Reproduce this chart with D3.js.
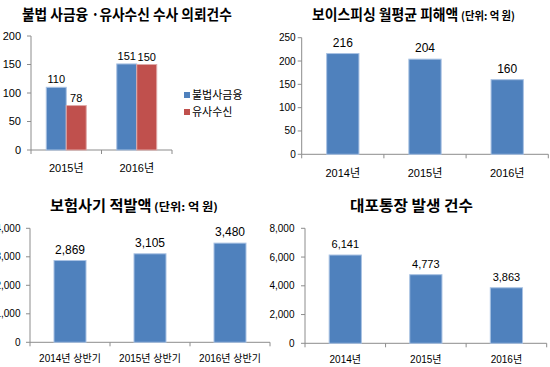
<!DOCTYPE html>
<html><head><meta charset="utf-8">
<script src="https://cdn.jsdelivr.net/npm/d3@7/dist/d3.min.js"></script>
<style>html,body{margin:0;padding:0;background:#fff;overflow:hidden}</style>
</head><body><svg id="c" width="550" height="367"></svg>
<script>
// ---- data ----
const p1Title = "불법 사금융 ·유사수신 수사 의뢰건수";
const p1Categories = ["2015년", "2016년"];
const p1Series = ["불법사금융", "유사수신"];
const p1Illegal = [110, 151];
const p1Similar = [78, 150];
const p1Ticks = [0, 50, 100, 150, 200];

const p2Title = "보이스피싱 월평균 피해액";
const p2Unit = "(단위: 억 원)";
const p2Categories = ["2014년", "2015년", "2016년"];
const p2Values = [216, 204, 160];
const p2Ticks = [0, 50, 100, 150, 200, 250];

const p3Title = "보험사기 적발액";
const p3Unit = "(단위: 억 원)";
const p3Categories = ["2014년 상반기", "2015년 상반기", "2016년 상반기"];
const p3Values = [2869, 3105, 3480];
const p3Ticks = [0, 1000, 2000, 3000, 4000];

const p4Title = "대포통장 발생 건수";
const p4Categories = ["2014년", "2015년", "2016년"];
const p4Values = [6141, 4773, 3863];
const p4Ticks = [0, 2000, 4000, 6000, 8000];

const BLUE = "#4F81BD", RED = "#C0504D";
const FONT = "'Liberation Sans', Arial, 'Noto Sans CJK KR', sans-serif";
const KFONT = "'Noto Sans CJK KR', 'Liberation Sans', sans-serif";
const AX = "#8c8c8c";
const svg = d3.select("#c");
const fmt = d3.format(",");

function axes(g, x, y, o) {
  const [x0, x1] = x.range();
  const [yb, yt] = y.range();
  g.append("line").attr("x1", x0).attr("x2", x0).attr("y1", yt).attr("y2", yb).attr("stroke", AX);
  o.ticks.forEach(t => {
    g.append("line").attr("x1", x0 - 4).attr("x2", x0).attr("y1", y(t)).attr("y2", y(t)).attr("stroke", AX);
    g.append("text").attr("x", x0 - o.tickGap).attr("y", y(t)).attr("dy", "0.35em")
      .attr("text-anchor", "end").attr("font-size", o.tickSize).attr("font-family", FONT)
      .attr("fill", "#000").text(o.tickFmt ? fmt(t) : t);
  });
  g.append("line").attr("x1", x0).attr("x2", x1).attr("y1", yb).attr("y2", yb).attr("stroke", AX);
  const step = x.step();
  for (let i = 0; i <= x.domain().length; i++) {
    const xx = x0 + i * step;
    g.append("line").attr("x1", xx).attr("x2", xx).attr("y1", yb).attr("y2", yb + 4).attr("stroke", AX);
  }
  x.domain().forEach(c => {
    g.append("text").attr("x", x(c) + x.bandwidth() / 2).attr("y", o.xLabelY)
      .attr("text-anchor", "middle").attr("font-size", o.xSize).attr("font-family", FONT)
      .attr("fill", "#000").text(c);
  });
}

// a bold label squeezed horizontally to fit between x0 and x1
function squeezed(str, x0, x1, y, size) {
  const g = svg.append("g");
  const t = g.append("text").attr("x", 0).attr("y", 0)
    .attr("font-family", KFONT).attr("font-weight", "bold").attr("fill", "#000")
    .attr("font-size", size).text(str);
  const w = t.node().getComputedTextLength();
  g.attr("transform", `translate(${x0},${y}) scale(${(x1 - x0) / w},1)`);
}
function title(main, unit, xStart, xSplit, xEnd, y, size) {
  squeezed(main, xStart, xSplit - 1.5, y, size);
  if (unit) squeezed(unit, xSplit + 1, xEnd, y, size * 0.72);
}

function singleBar(cats, vals, xr, yr, dom, ticks, o) {
  const g = svg.append("g");
  const x = d3.scaleBand().domain(cats).range(xr).paddingInner(o.pad).paddingOuter(o.pad / 2);
  const y = d3.scaleLinear().domain(dom).range(yr);
  axes(g, x, y, Object.assign({ ticks }, o));
  g.selectAll("rect.b").data(vals).enter().append("rect")
    .attr("x", (d, i) => x(cats[i])).attr("width", x.bandwidth())
    .attr("y", d => y(d)).attr("height", d => y(0) - y(d))
    .attr("fill", BLUE).attr("stroke", "#a9c2e3").attr("stroke-width", 1);
  g.selectAll("text.v").data(vals).enter().append("text")
    .attr("x", (d, i) => x(cats[i]) + x.bandwidth() / 2).attr("y", d => y(d) - o.vGap)
    .attr("text-anchor", "middle").attr("font-size", o.vSize).attr("font-family", FONT)
    .attr("fill", "#000").text(d => o.tickFmt ? fmt(d) : d);
}

// ---- panel 1 (grouped) ----
(function () {
  const g = svg.append("g");
  const x = d3.scaleBand().domain(p1Categories).range([31, 172]).paddingInner(0.433).paddingOuter(0.2165);
  const x1 = d3.scaleBand().domain(p1Series).range([0, x.bandwidth()]);
  const y = d3.scaleLinear().domain([0, 200]).range([150, 36]);
  axes(g, x, y, { ticks: p1Ticks, tickGap: 10, tickSize: 11, xSize: 11, xLabelY: 172 });
  const sets = [p1Illegal, p1Similar], cols = [BLUE, RED], strokes = ["#a9c2e3", "#e0a9a8"];
  sets.forEach((vals, s) => {
    vals.forEach((v, i) => {
      const bx = x(p1Categories[i]) + x1(p1Series[s]);
      g.append("rect").attr("x", bx).attr("width", x1.bandwidth()).attr("y", y(v)).attr("height", y(0) - y(v))
        .attr("fill", cols[s]).attr("stroke", strokes[s]);
      g.append("text").attr("x", bx + x1.bandwidth() / 2).attr("y", y(v) - 4).attr("text-anchor", "middle")
        .attr("font-size", 11).attr("font-family", FONT).attr("fill", "#000").text(v);
    });
  });
  p1Series.forEach((s, i) => {
    g.append("rect").attr("x", 184).attr("y", 92 + i * 17).attr("width", 6).attr("height", 6).attr("fill", cols[i]);
    g.append("text").attr("x", 192).attr("y", 95 + i * 17).attr("dy", "0.35em").attr("font-size", 11)
      .attr("font-family", KFONT).attr("fill", "#000").text(s);
  });
  title(p1Title, null, 22, 233.5, 233.5, 20, 15);
})();

// ---- panel 2 ----
singleBar(p2Categories, p2Values, [301.7, 548.3], [154.3, 37.7], [0, 250], p2Ticks,
  { pad: 0.607, tickGap: 6, tickSize: 10, xSize: 11, xLabelY: 177, vSize: 12, vGap: 7 });
title(p2Title, p2Unit, 312, 460, 515, 20, 15);

// ---- panel 3 ----
singleBar(p3Categories, p3Values, [30, 270], [342.3, 228.3], [0, 4000], p3Ticks,
  { pad: 0.6, tickGap: 9.5, tickSize: 10, xSize: 10, xLabelY: 362, vSize: 12, vGap: 7, tickFmt: true });
title(p3Title, p3Unit, 50, 153, 218, 211, 15);

// ---- panel 4 ----
singleBar(p4Categories, p4Values, [305, 546.7], [343.3, 228.3], [0, 8000], p4Ticks,
  { pad: 0.6, tickGap: 10.5, tickSize: 10, xSize: 10, xLabelY: 363, vSize: 11, vGap: 7, tickFmt: true });
title(p4Title, null, 350, 474.5, 474.5, 210.5, 15);
</script></body></html>
